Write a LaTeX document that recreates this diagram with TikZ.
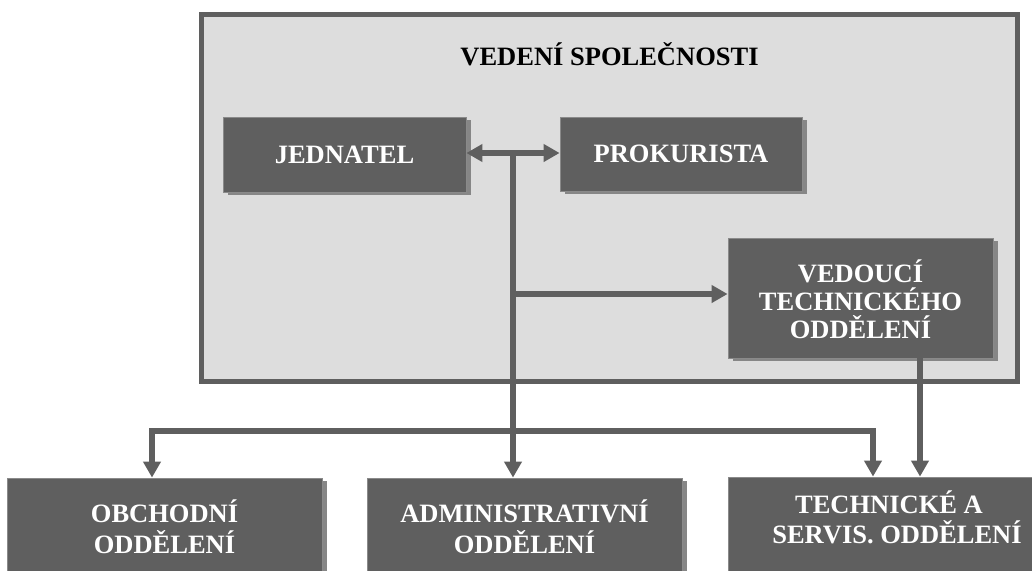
\documentclass[tikz,border=0pt]{standalone}
\usepackage{fontspec}
\setmainfont{Liberation Serif}
\usetikzlibrary{arrows.meta,shadows}
\definecolor{dark}{HTML}{5F5F5F}
\definecolor{shade}{HTML}{868686}
\definecolor{panel}{HTML}{DDDDDD}
\definecolor{edge}{HTML}{8A8A8A}
\begin{document}
\begin{tikzpicture}[x=1pt,y=-1pt,
  unit/.style={rectangle, fill=dark, draw=edge, line width=0.8pt, inner sep=0pt,
    text=white, font=\bfseries\fontsize{26.5}{31}\selectfont, align=center,
    text height=17pt, text depth=0pt,
    drop shadow={shadow xshift=4.5pt, shadow yshift=-3.3pt, fill=shade, opacity=1}},
  panelbox/.style={rectangle, draw=dark, fill=panel, line width=5pt, inner sep=0pt},
  conn/.style={draw=dark, line width=5.2pt},
  tip/.style={-{Triangle[length=16pt,width=17pt]}},
  twotip/.style={{Triangle[length=16pt,width=17pt]}-{Triangle[length=16pt,width=17pt]}}
]
\useasboundingbox (0,0) rectangle (1032,570);
\clip (0,0) rectangle (1032,570);

\node[panelbox, minimum width=816pt, minimum height=367pt] (vedeni) at (609,197.5) {};
\node[font=\bfseries\fontsize{26.5}{31}\selectfont, text height=17pt, text depth=0pt, inner sep=0pt] (title) at (609.5,56.5) {VEDENÍ SPOLEČNOSTI};

\node[unit, minimum width=243pt, minimum height=75pt] (jed) at (344.5,154.5) {JEDNATEL};
\node[unit, minimum width=242pt, minimum height=74pt] (pro) at (681,154) {PROKURISTA};
\node[unit, minimum width=265pt, minimum height=120pt, font=\bfseries\fontsize{26.5}{28}\selectfont, text height=80pt] (ved) at (860.5,298) {VEDOUCÍ\\TECHNICKÉHO\\ODDĚLENÍ};

\node[unit, minimum width=315pt, minimum height=103pt, text height=48pt] (obch) at (164.5,529.5) {OBCHODNÍ\\ODDĚLENÍ};
\node[unit, minimum width=315pt, minimum height=103pt, text height=48pt] (adm) at (524.5,529.5) {ADMINISTRATIVNÍ\\ODDĚLENÍ};
\node[unit, minimum width=338pt, minimum height=103pt, font=\bfseries\fontsize{26.5}{30}\selectfont, text height=29pt] (tech) at (897,528.5) {TECHNICKÉ A\hspace*{16pt}\\SERVIS. ODDĚLENÍ};

\coordinate (tx) at (513,153);
\coordinate (tb) at (513,294);
\coordinate (hm) at (513,431);
\coordinate (hl) at (152,431);
\coordinate (hr) at (873,431);
\coordinate (vx) at (920,358);

\draw[conn, twotip] (jed.east |- tx) -- (pro.west |- tx);
\draw[conn, tip] (tx) -- (tx |- adm.north);
\draw[conn, tip] (tb) -- (tb -| ved.west);
\draw[conn, tip] (hm) -- (hl) -- (hl |- obch.north);
\draw[conn, tip] (hm) -- (hr) -- (hr |- tech.north);
\draw[conn, tip] (ved.south -| vx) -- (vx |- tech.north);
\end{tikzpicture}
\end{document}
